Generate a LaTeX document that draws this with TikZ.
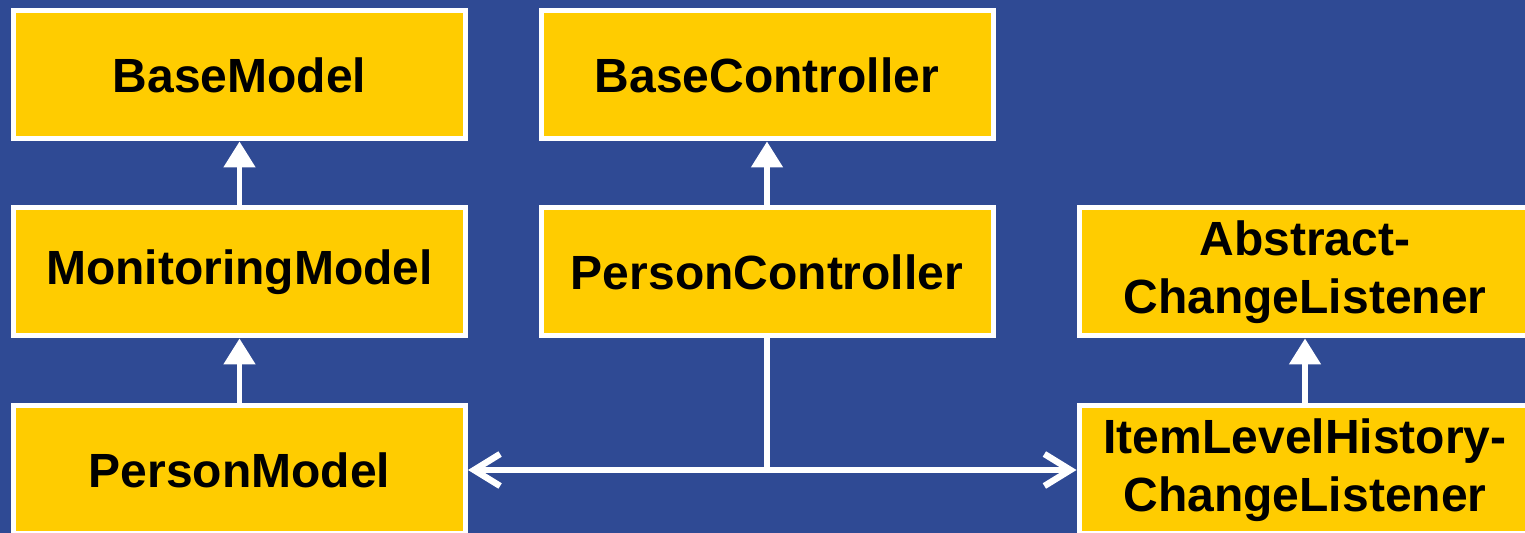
\documentclass[tikz,border=0pt]{standalone}
\usepackage{fontspec}
\setmainfont{Liberation Sans}
\usetikzlibrary{arrows.meta}
\definecolor{bgblue}{RGB}{47,74,148}
\definecolor{boxyellow}{RGB}{255,204,0}
\tikzset{openbarb/.tip={Straight Barb[length=13pt,width=16pt,line width=3.2pt]}}
\begin{document}
\begin{tikzpicture}[x=0.5pt,y=-0.5pt,
  cls/.style={draw=white, line width=2.5pt, fill=boxyellow, text=black,
    minimum width=226pt, minimum height=64pt, inner sep=0pt, align=center,
    font=\fontsize{24}{28.8}\selectfont\bfseries},
  inherit/.style={draw=white, line width=2.6pt,
    -{Triangle[length=13pt,width=15.5pt,fill=white]}},
  assoc/.style={draw=white, line width=2.6pt, openbarb-openbarb},
  link/.style={draw=white, line width=2.6pt}]
  \useasboundingbox (0,0) rectangle (1525,533);
  \fill[bgblue] (0,0) rectangle (1525,533);

  % class boxes
  \node[cls] (base)   at (239.5,75)  {BaseModel};
  \node[cls] (mon)    at (239.5,272) {MonitoringModel};
  \node[cls] (pm)     at (239.5,470) {PersonModel};
  \node[cls] (bctl)   at (767,75)    {BaseController};
  \node[cls] (pctl)   at (767,272)   {PersonController};
  \node[cls] (acl)    at (1305,272)  {Abstract-\\ChangeListener};
  \node[cls] (ilh)    at (1305,470)  {ItemLevelHistory-\\ChangeListener};

  % generalisations
  \draw[inherit] (mon.north)  -- (base.south);
  \draw[inherit] (pm.north)   -- (mon.south);
  \draw[inherit] (pctl.north) -- (bctl.south);
  \draw[inherit] (ilh.north)  -- (acl.south);

  % controller associations
  \coordinate (j) at (pctl.south |- pm.east);
  \draw[assoc] (pm.east) -- (ilh.west);
  \draw[link] (pctl.south) -- (j);
\end{tikzpicture}
\end{document}
